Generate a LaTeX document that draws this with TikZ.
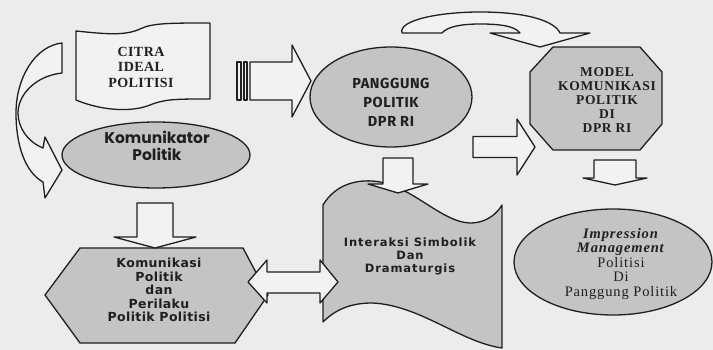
\documentclass[tikz,border=0pt]{standalone}
\usepackage{fontspec}
\setmainfont{Liberation Serif}
\newfontfamily\gothicfont{Poppins}
\newfontfamily\verdfont[LetterSpace=3]{DejaVu Sans}
\newfontfamily\handfont[LetterSpace=8]{DejaVu Sans}
\newfontfamily\roundfont[LetterSpace=4]{Fira Sans}
\newfontfamily\citrafont[LetterSpace=3]{Liberation Serif}
\newfontfamily\modelfont[LetterSpace=5]{Liberation Serif}
\newfontfamily\impfont[LetterSpace=6]{Liberation Serif}
\usetikzlibrary{calc}
\definecolor{paper}{gray}{0.925}
\definecolor{blank}{gray}{0.95}
\definecolor{shade}{gray}{0.77}
\definecolor{ink}{gray}{0.12}
\tikzset{
  outline/.style={draw=ink, line width=1.3pt, line join=round},
  blockarrow/.style={outline, fill=blank},
  grayshape/.style={outline, fill=shade},
  txt/.style={align=center, text=ink, inner sep=0pt}
}
\def\blockdown(#1,#2)(#3:#4:#5:#6){\draw[blockarrow] (#1-#3,#2) -- (#1+#3,#2) -- (#1+#3,#4) -- (#1+#5,#4) -- (#1,#6) -- (#1-#5,#4) -- (#1-#3,#4) -- cycle;}
\def\blockright(#1,#2)(#3:#4:#5:#6){\draw[blockarrow] (#1,#2-#3) -- (#4,#2-#3) -- (#4,#2-#5) -- (#6,#2) -- (#4,#2+#5) -- (#4,#2+#3) -- (#1,#2+#3) -- cycle;}

\begin{document}
\begin{tikzpicture}[x=1pt,y=-1pt]
	%%%%% START %%%%%
	\fill[paper] (0,0) rectangle (713,350);
	\useasboundingbox (0,0) rectangle (713,350);
	
	% citra ideal
	\draw[outline, fill=blank] (76,31) .. controls (105,34) and (125,36) .. (140,29) .. controls (152,23) and (170,23) .. (210,23) -- (210,99) .. controls (175,99) and (165,99) .. (150,105) .. controls (130,113) and (100,110) .. (76,100) -- cycle;
	\node[txt, font=\citrafont\bfseries\fontsize{14}{15.5}\selectfont] (citra) at (141,67) {CITRA\\IDEAL\\POLITISI};
	
	% komunikator
	\draw[grayshape] (156,155) ellipse [x radius=94pt, y radius=33pt];
	\node[txt, font=\gothicfont\bfseries\fontsize{15.5}{16.5}\selectfont] (komunikator) at (157,146) {Komunikator\\Politik};
	
	% curved arrow, left
	\draw[blockarrow] (62,43) -- (62,73) .. controls (35,76) and (18,95) .. (18,113) .. controls (18,128) and (28,142) .. (43,148) -- (45,137) -- (62,170) -- (45,198) -- (43,182) .. controls (25,172) and (16,145) .. (16,113) .. controls (16,78) and (35,46) .. (62,43) -- cycle;
	
	% striped arrow
	\draw[blockarrow] (237,62) rectangle (241,100);
	\draw[blockarrow] (244,62) rectangle (247,100);
	\blockright(250,81)(19:292:36:311)
	
	% panggung politik
	\draw[grayshape] (391,97) ellipse [x radius=81pt, y radius=50pt];
	\node[txt, font=\roundfont\bfseries\fontsize{14.5}{19}\selectfont] (panggung) at (391,102) {PANGGUNG\\POLITIK\\DPR RI};
	
	% curved arrow, top
	\draw[blockarrow] (402,33) .. controls (398,20) and (440,12) .. (480,12) .. controls (530,12) and (555,22) .. (560,33) -- (590,33) -- (540,47) -- (490,33) -- (520,33) .. controls (515,26) and (500,24) .. (480,24) .. controls (460,24) and (447,27) .. (442,33) -- cycle;
	
	% model komunikasi
	\draw[grayshape] (553,47) -- (640,47) -- (662,72) -- (662,124) -- (640,150) -- (553,150) -- (530,124) -- (530,72) -- cycle;
	\node[txt, font=\modelfont\bfseries\fontsize{13.5}{14}\selectfont] (model) at (607,100) {MODEL\\KOMUNIKASI\\POLITIK\\DI\\DPR RI};
	\blockright(473,147)(10.5:517:28:535)
	
	% komunikasi politik
	\draw[grayshape] (80,248) -- (243,248) -- (268,295) -- (235,343) -- (80,343) -- (45,295) -- cycle;
	\node[txt, font=\verdfont\bfseries\fontsize{12.5}{13.5}\selectfont] (komunikasi) at (159,290) {Komunikasi\\Politik\\dan\\Perilaku\\Politik Politisi};
	
	% interaksi simbolik
	\draw[grayshape] (323,205) .. controls (335,185) and (355,180) .. (372,181) .. controls (410,183) and (440,222) .. (470,223) .. controls (488,223) and (498,212) .. (502,205) -- (502,348) .. controls (460,342) and (420,305) .. (372,303) .. controls (350,303) and (335,310) .. (323,322) -- cycle;
	\node[txt, font=\handfont\bfseries\fontsize{11.5}{13}\selectfont] (interaksi) at (410,256) {Interaksi Simbolik\\Dan\\Dramaturgis};
	
	% impression management
	\draw[grayshape] (613,262) ellipse [x radius=99pt, y radius=53pt];
	\node[txt, font=\impfont\fontsize{14.5}{14.5}\selectfont] (impression) at (621,264) {\textbf{\textit{Impression}}\\\textbf{\textit{Management}}\\Politisi\\Di\\Panggung Politik};
	
	% down arrows
	\blockdown(155,203)(18:237:41:248)
	\blockdown(398,158)(15:184:30:193)
	\blockdown(615,160)(21:178:32:185)
	
	% double arrow
	\draw[blockarrow] (248,282) -- (267,260) -- (267,272) -- (320,272) -- (320,260) -- (338,282) -- (320,303) -- (320,293) -- (267,293) -- (267,303) -- cycle;
	%%%%% END %%%%%
\end{tikzpicture}
\end{document}
